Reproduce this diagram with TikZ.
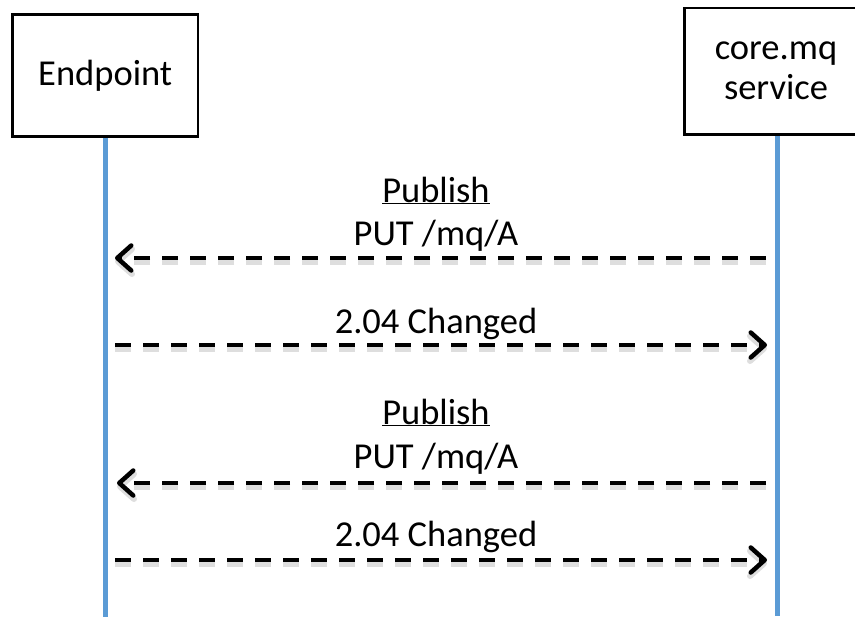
\documentclass[tikz,border=0pt]{standalone}
\usepackage{fontspec}
\setmainfont{Carlito}
\usetikzlibrary{arrows.meta}
\definecolor{lifeblue}{RGB}{91,155,213}
\tikzset{
  attore/.style={draw, line width=2.5pt, fill=white, align=center, inner sep=0pt,
    font=\fontsize{36.5}{40}\selectfont},
  vita/.style={draw=lifeblue, line width=5pt},
  tratteggio/.style={dash pattern=on 16pt off 12pt},
  messaggio/.style={line width=4.5pt, tratteggio,
    -{Straight Barb[length=14pt, width=25pt, round]},
    preaction={draw=black!13, line width=6pt, tratteggio, transform canvas={yshift=-3.5pt}}},
  etichetta/.style={anchor=base, inner sep=0pt, font=\fontsize{36.5}{40}\selectfont},
}
\begin{document}
\begin{tikzpicture}[x=1pt, y=-1pt]
  \useasboundingbox (0,0) rectangle (855,619);
  \clip (0,0) rectangle (855,619);

  % linee di vita
  \coordinate (ep-fine) at (105.5,617);
  \coordinate (mq-fine) at (777.5,616);
  \draw[vita] (105.5,130) -- (ep-fine);
  \draw[vita] (777.5,130) -- (mq-fine);

  % attori
  \node[attore, minimum width=185.5pt, minimum height=122pt] (ep) at (105.25,75.5) {Endpoint};
  \node[attore, minimum width=183pt, minimum height=126.5pt] (mq) at (776,71.25) {core.mq\\service};

  % messaggi
  \coordinate (m1a) at (766,258); \coordinate (m1b) at (115,258);
  \coordinate (m2a) at (115,345); \coordinate (m2b) at (767,345);
  \coordinate (m3a) at (766,483); \coordinate (m3b) at (117,483);
  \coordinate (m4a) at (115,560); \coordinate (m4b) at (767,560);
  \draw[messaggio] (m1a) -- (m1b);
  \draw[messaggio] (m2a) -- (m2b);
  \draw[messaggio] (m3a) -- (m3b);
  \draw[messaggio] (m4a) -- (m4b);

  % etichette
  \node[etichetta] (pub1) at (436,202) {\underline{Publish}};
  \node[etichetta] (put1) at (436,245) {PUT /mq/A};
  \node[etichetta] (chg1) at (436,333) {2.04 Changed};
  \node[etichetta] (pub2) at (436,424) {\underline{Publish}};
  \node[etichetta] (put2) at (436,468) {PUT /mq/A};
  \node[etichetta] (chg2) at (436,546) {2.04 Changed};
\end{tikzpicture}
\end{document}
